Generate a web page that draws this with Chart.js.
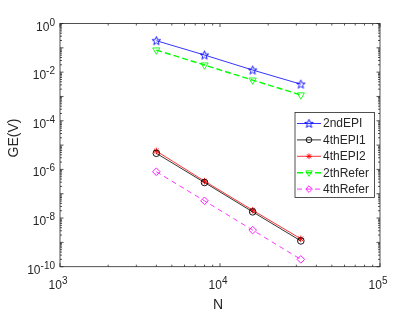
<!DOCTYPE html>
<html>
<head>
<meta charset="utf-8">
<script src="https://cdn.jsdelivr.net/npm/chart.js@4"></script>
<style>
  html, body { margin: 0; padding: 0; background: #fff; }
  canvas { display: block; }
</style>
</head>
<body>
<canvas id="chart" width="419" height="314"></canvas>
<script>
'use strict';

/* DATA */
const nVals = [4000, 8000, 16000, 32000];
const epi2nd = [0.196, 0.0506, 0.0122, 0.0032];
const epi4th1 = [4.6e-6, 2.9e-7, 1.8e-8, 1.15e-9];
const epi4th2 = [5.7e-6, 3.3e-7, 2.1e-8, 1.4e-9];
const refer2 = [0.081, 0.0196, 0.0047, 0.00115];
const refer4 = [8.0e-7, 5.1e-8, 3.2e-9, 2.0e-10];
const seriesNames = ['2ndEPI', '4thEPI1', '4thEPI2', '2thRefer', '4thRefer'];
const xTickExps = [3, 4, 5];
const yTickExps = [0, -2, -4, -6, -8, -10];

const TXT = '#262626';
const FONT = '"Liberation Sans", Arial, sans-serif';

/* pentagram marker (MATLAB 'p') */
function pentagram(color) {
  const c = document.createElement('canvas');
  c.width = 11; c.height = 11;
  const g = c.getContext('2d');
  g.beginPath();
  for (let i = 0; i < 10; i++) {
    const r = i % 2 ? 1.9 : 4.5;
    const a = -Math.PI / 2 + i * Math.PI / 5;
    const x = 5.5 + r * Math.cos(a), y = 5.8 + r * Math.sin(a);
    i ? g.lineTo(x, y) : g.moveTo(x, y);
  }
  g.closePath();
  g.strokeStyle = color;
  g.lineWidth = 0.9;
  g.stroke();
  return c;
}

function pts(arr) { return arr.map((v, i) => ({ x: nVals[i], y: v })); }

const datasets = [
  { label: seriesNames[0], data: pts(epi2nd), borderColor: '#0000ff', borderWidth: 0.8,
    pointStyle: pentagram('#0000ff'), pointRadius: 4.5, borderDash: [] },
  { label: seriesNames[1], data: pts(epi4th1), borderColor: '#000000', borderWidth: 0.8,
    pointStyle: 'circle', pointRadius: 3.3, borderDash: [] },
  { label: seriesNames[2], data: pts(epi4th2), borderColor: '#ff0000', borderWidth: 0.8,
    pointStyle: 'star', pointRadius: 3.3, borderDash: [] },
  { label: seriesNames[3], data: pts(refer2), borderColor: '#00ff00', borderWidth: 1.4,
    pointStyle: 'triangle', pointRotation: 180, pointRadius: 4.2, borderDash: [6, 3] },
  { label: seriesNames[4], data: pts(refer4), borderColor: '#ff00ff', borderWidth: 0.8,
    pointStyle: 'rectRot', pointRadius: 3.8, borderDash: [5, 4] }
].map(d => Object.assign({
  pointBorderColor: d.borderColor,
  pointBackgroundColor: 'rgba(0,0,0,0)',
  pointBorderWidth: 0.9,
  pointRotation: 0,
  fill: false,
  tension: 0
}, d));

/* label "10^e" with a raised exponent */
function powLabel(ctx, e, x, y, align) {
  ctx.font = '12px ' + FONT;
  const bw = ctx.measureText('10').width;
  ctx.font = '10px ' + FONT;
  const ew = ctx.measureText(String(e)).width;
  let x0 = x;
  if (align === 'right') x0 = x - bw - ew;
  else if (align === 'center') x0 = x - (bw + ew) / 2;
  ctx.textAlign = 'left';
  ctx.textBaseline = 'alphabetic';
  ctx.font = '12px ' + FONT;
  ctx.fillText('10', x0, y);
  ctx.font = '10px ' + FONT;
  ctx.fillText(String(e), x0 + bw, y - 5);
}

const axesPlugin = {
  id: 'matlabAxes',
  afterDraw(chart) {
    const ctx = chart.ctx;
    const a = chart.chartArea;
    const xs = chart.scales.x, ys = chart.scales.y;
    ctx.save();
    ctx.strokeStyle = TXT;
    ctx.lineWidth = 0.8;
    ctx.setLineDash([]);
    // box
    ctx.strokeRect(a.left, a.top, a.right - a.left, a.bottom - a.top);
    // ticks
    ctx.beginPath();
    for (let d = 3; d <= 5; d++) {
      for (let m = 1; m <= 9; m++) {
        const v = m * Math.pow(10, d);
        if (v > xs.max) break;
        const px = xs.getPixelForValue(v);
        const len = m === 1 ? 3.5 : 2;
        ctx.moveTo(px, a.bottom); ctx.lineTo(px, a.bottom - len);
        ctx.moveTo(px, a.top); ctx.lineTo(px, a.top + len);
      }
    }
    for (let d = -10; d <= 0; d++) {
      for (let m = 1; m <= 9; m++) {
        const v = m * Math.pow(10, d);
        if (v > ys.max * 1.0001) break;
        const py = ys.getPixelForValue(v);
        const len = m === 1 ? 3.5 : 2;
        ctx.moveTo(a.left, py); ctx.lineTo(a.left + len, py);
        ctx.moveTo(a.right, py); ctx.lineTo(a.right - len, py);
      }
    }
    ctx.stroke();

    // tick labels
    ctx.fillStyle = TXT;
    xTickExps.forEach(e => powLabel(ctx, e, xs.getPixelForValue(Math.pow(10, e)) - 2, a.bottom + 22.5, 'center'));
    yTickExps.forEach(e => powLabel(ctx, e, a.left - 5, ys.getPixelForValue(Math.pow(10, e)) + 7, 'right'));

    // axis titles
    ctx.font = '14px ' + FONT;
    ctx.textAlign = 'center';
    ctx.textBaseline = 'alphabetic';
    ctx.fillText('N', 218, 309);
    ctx.save();
    ctx.translate(18, 138);
    ctx.rotate(-Math.PI / 2);
    ctx.fillText('GE(V)', 0, 0);
    ctx.restore();

    // legend
    const lx = 295, ly = 112.5, lw = 79.5, lh = 85, row = 16.4;
    ctx.fillStyle = '#fff';
    ctx.fillRect(lx, ly, lw, lh);
    ctx.strokeStyle = TXT;
    ctx.lineWidth = 0.8;
    ctx.strokeRect(lx, ly, lw, lh);
    chart.data.datasets.forEach((ds, i) => {
      const cy = ly + 11 + i * row;
      ctx.strokeStyle = ds.borderColor;
      ctx.lineWidth = ds.borderWidth;
      ctx.setLineDash(ds.borderDash);
      ctx.beginPath();
      ctx.moveTo(lx + 2, cy); ctx.lineTo(lx + 26, cy);
      ctx.stroke();
      ctx.setLineDash([]);
      ctx.lineWidth = 0.9;
      ctx.fillStyle = 'rgba(0,0,0,0)';
      Chart.helpers.drawPoint(ctx, {
        pointStyle: ds.pointStyle, rotation: ds.pointRotation,
        radius: ds.pointRadius - 0.5, borderWidth: 0.9
      }, lx + 14, cy);
      ctx.fillStyle = TXT;
      ctx.font = '12px ' + FONT;
      ctx.textAlign = 'left';
      ctx.textBaseline = 'middle';
      ctx.fillText(ds.label, lx + 28, cy + 0.5);
    });
    ctx.restore();
  }
};

new Chart(document.getElementById('chart'), {
  type: 'line',
  data: { datasets },
  options: {
    responsive: false,
    animation: false,
    layout: { padding: { left: 60, right: 39, top: 23.5, bottom: 47.3 } },
    plugins: { legend: { display: false }, tooltip: { enabled: false } },
    scales: {
      x: {
        type: 'logarithmic', min: 1000, max: 100000,
        grid: { display: false, drawTicks: false },
        border: { display: false },
        ticks: { display: false }
      },
      y: {
        type: 'logarithmic', min: 1e-10, max: 1,
        grid: { display: false, drawTicks: false },
        border: { display: false },
        ticks: { display: false }
      }
    }
  },
  plugins: [axesPlugin]
});
</script>
</body>
</html>
